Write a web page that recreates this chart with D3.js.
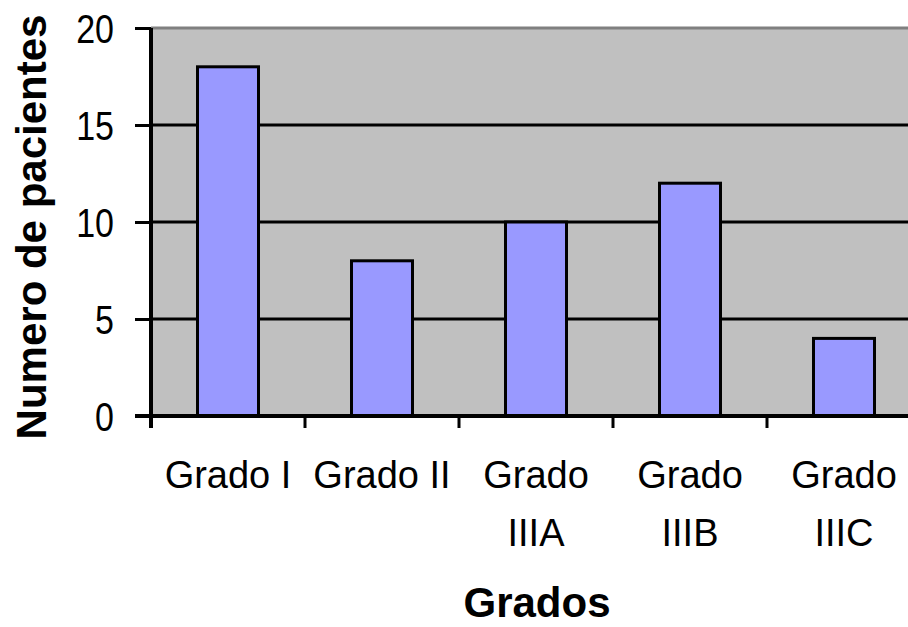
<!DOCTYPE html>
<html>
<head>
<meta charset="utf-8">
<script src="https://cdn.jsdelivr.net/npm/d3@7"></script>
<style>
  html, body { margin: 0; padding: 0; background: #ffffff; }
  svg { display: block; }
</style>
</head>
<body>
<svg id="chart" width="908" height="627"></svg>
<script>
// ---- Data ----
const categories = ["Grado I", "Grado II", "Grado IIIA", "Grado IIIB", "Grado IIIC"];
const values = [18, 8, 10, 12, 4];
const yTicks = [0, 5, 10, 15, 20];
const yTitle = "Numero de pacientes";
const xTitle = "Grados";

// ---- Layout ----
const plot = { left: 151, right: 921, top: 28, bottom: 416 };
const svg = d3.select("#chart");

const x = d3.scaleBand().domain(categories).range([plot.left, plot.right]).padding(0);
const y = d3.scaleLinear().domain([0, 20]).range([plot.bottom, plot.top]);

// plot area background
svg.append("rect")
  .attr("x", plot.left).attr("y", plot.top)
  .attr("width", plot.right - plot.left).attr("height", plot.bottom - plot.top)
  .attr("fill", "#c0c0c0");

// top & right border (gray)
svg.append("path")
  .attr("d", `M${plot.left},${plot.top}H${plot.right}V${plot.bottom}`)
  .attr("fill", "none").attr("stroke", "#808080").attr("stroke-width", 3);

// gridlines (major, black)
svg.append("g").selectAll("line")
  .data(yTicks.filter(t => t > 0 && t < 20))
  .join("line")
  .attr("x1", plot.left).attr("x2", plot.right)
  .attr("y1", d => y(d)).attr("y2", d => y(d))
  .attr("stroke", "#000").attr("stroke-width", 3);

// bars
const barW = 61;
svg.append("g").selectAll("rect")
  .data(values)
  .join("rect")
  .attr("x", (d, i) => x(categories[i]) + x.bandwidth() / 2 - barW / 2)
  .attr("y", d => y(d))
  .attr("width", barW)
  .attr("height", d => y(0) - y(d))
  .attr("fill", "#9999ff")
  .attr("stroke", "#000").attr("stroke-width", 3);

// y axis
const yAxis = d3.axisLeft(y).tickValues(yTicks).tickSize(16).tickPadding(0).tickFormat(d3.format("d"));
const gy = svg.append("g").attr("transform", `translate(${plot.left},0)`).call(yAxis);
gy.select(".domain").remove();
gy.selectAll(".tick line").attr("stroke", "#000").attr("stroke-width", 3);
gy.selectAll(".tick text")
  .attr("fill", "#000")
  .attr("x", 0)
  .attr("transform", "translate(-37,0) scale(0.85,1)")
  .style("font-family", "'Liberation Sans', Arial, sans-serif")
  .style("font-size", "40px")
  .attr("dy", "0.36em");
gy.append("line")
  .attr("x1", 0).attr("x2", 0).attr("y1", plot.top).attr("y2", plot.bottom + 12)
  .attr("stroke", "#000").attr("stroke-width", 4);

// x axis
const xAxis = d3.axisBottom(x).tickSize(0).tickFormat("");
const gx = svg.append("g").attr("transform", `translate(0,${plot.bottom})`).call(xAxis);
gx.select(".domain").remove();
gx.append("line")
  .attr("x1", plot.left - 16).attr("x2", plot.right).attr("y1", 0).attr("y2", 0)
  .attr("stroke", "#000").attr("stroke-width", 4);
// category boundary ticks
gx.append("g").selectAll("line")
  .data(categories)
  .join("line")
  .attr("x1", d => x(d)).attr("x2", d => x(d))
  .attr("y1", 0).attr("y2", 12)
  .attr("stroke", "#000").attr("stroke-width", 3);

// category labels with wrapping
const labelFont = "'Liberation Sans', Arial, sans-serif";
const labels = svg.append("g");
categories.forEach(c => {
  const cx = x(c) + x.bandwidth() / 2;
  const t = labels.append("text")
    .attr("x", cx).attr("y", 488)
    .attr("text-anchor", "middle")
    .style("font-family", labelFont).style("font-size", "38px")
    .attr("fill", "#000")
    .text(c);
  if (t.node().getComputedTextLength() > x.bandwidth() - 8) {
    const words = c.split(" ");
    t.text(null);
    words.forEach((w, i) => {
      t.append("tspan").attr("x", cx).attr("y", 488 + i * 57.5).text(w);
    });
  }
});

// axis titles
svg.append("text")
  .attr("transform", "translate(46,227) rotate(-90)")
  .attr("text-anchor", "middle")
  .style("font-family", "'Liberation Sans', Arial, sans-serif")
  .style("font-weight", "bold").style("font-size", "42px")
  .attr("fill", "#000")
  .text(yTitle);

svg.append("text")
  .attr("x", 537).attr("y", 617)
  .attr("text-anchor", "middle")
  .style("font-family", "'Liberation Sans', Arial, sans-serif")
  .style("font-weight", "bold").style("font-size", "42px")
  .attr("fill", "#000")
  .text(xTitle);
</script>
</body>
</html>
